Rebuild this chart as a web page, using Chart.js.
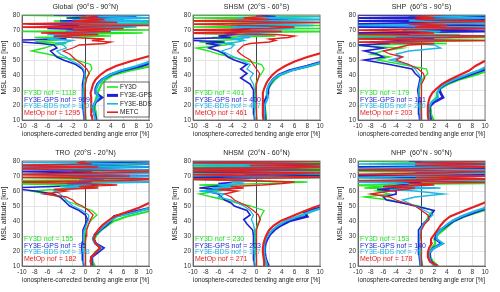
<!DOCTYPE html>
<html>
<head>
<meta charset="utf-8">
<script src="https://cdn.jsdelivr.net/npm/chart.js@4.4.1/dist/chart.umd.min.js"></script>
<style>
  body { margin: 0; background: #fff; }
  #wrap { position: relative; width: 500px; height: 292px; }
  canvas { position: absolute; }
</style>
</head>
<body>
<div id="wrap"></div>
<script>
const PANEL_TITLES = ['Global  (90°S - 90°N)', 'SHSM  (20°S - 60°S)', 'SHP  (60°S - 90°S)',
                      'TRO  (20°S - 20°N)', 'NHSM  (20°N - 60°N)', 'NHP  (60°N - 90°N)'];
const SERIES = ['FY3D', 'FY3E-GPS', 'FY3E-BDS', 'METC'];
const NOF_LABELS = ['FY3D', 'FY3E-GPS', 'FY3E-BDS', 'MetOp'];
const NOF = [
  [1118, 999, 1101, 1295],
  [401, 400, 487, 461],
  [179, 161, 200, 203],
  [155, 95, 198, 182],
  [230, 203, 137, 271],
  [153, 140, 79, 178]
];
const COLORS = ['#22e622', '#1f1fd6', '#1cb6e8', '#e61e1e'];

// altitudes [km] of the mean (bias) profiles and of the std profiles
const ALT_MEAN = [10, 14, 18, 22, 26, 30, 34, 38, 41, 44, 47, 50, 52, 54, 56, 58,
  60, 61, 62, 63, 64, 65, 66, 67, 68, 69, 70, 71, 72, 73, 74, 75, 76, 77, 78, 79, 80];
const ALT_STD = [10, 13, 16, 19, 22, 25, 28, 31, 34, 37, 40, 43, 46, 49, 52, 55];

// mean error [%]  (FY3D, FY3E-GPS, FY3E-BDS, METC)
const MEAN_GLOBAL = [
  [0.1,0,-0.1,-0.2,-0.2,-0.3,-0.2,0.2,0.5,1.0,0.8,-1.5,-4,-6,-8.5,-6.5, -5,-3,-8,-5,-3,-8,4,-4,9,-12,12,-3,2,-1,3,14,-5,4,-1,3,-13],
  [-0.2,-0.3,-0.4,-0.5,-0.5,-0.5,-0.4,-0.3,-0.2,-0.5,-1.5,-3.5,-4.5,-5,-5.5,-4.5, -5,-7,-10,-13,-3,-5,-2,-4,-1,-3,2,-6,5,-2,-9,3,-4,6,-3,8,-5],
  [-0.1,-0.2,-0.3,-0.4,-0.4,-0.4,-0.3,-0.2,-0.1,-0.3,-1,-2.5,-3,-4,-4.5,-3, -3.5,-4.5,-3,-2,-6,-4,-1,-6,2,-3,5,-2,8,-1,12,-4,13,-2,14,0,14],
  [0,0,0,-0.1,-0.1,-0.1,0,0.2,0.6,0.2,-0.5,-1.5,-2,-2.5,-3.5,-2, -1,3,4,1,3,-2,-5,2,-7,4,-2,6,-14,14,-14,5,-2,3,-1,2,0]
];
const MEAN_SHSM = [
  [0.1,0,-0.1,-0.1,-0.2,-0.2,-0.1,0.3,0.8,1.2,0.8,-2,-4,-6,-7.5,-9.5, -5,-4,-9,-6,-2,-7,3,-3,-12,14,-13,13,-12,12,-4,3,-13,13,-13,14,-14],
  [-0.3,-0.4,-0.5,-0.5,-0.4,-0.5,-1.0,-2.5,-1.5,-2.5,-1.5,-3.5,-4.5,-5,-6,-7.5, -6,-8,-5,-10,-12,-4,-6,-3,-5,-2,-4,0,-3,2,-1,4,-2,5,-1,3,0],
  [-0.2,-0.3,-0.3,-0.4,-0.3,-0.3,-0.5,-1.0,-0.5,-1.5,-1,-2.5,-3.5,-4.5,-5.5,-4, -3.5,-5,-3,-2,-4,-1,-3,2,-2,4,-1,6,-4,9,-3,12,-5,14,-3,12,14],
  [0,0,0,0,0,-0.1,0,0.3,0.5,0,-0.5,-1,-1.8,-2.5,-3,-2.5, -2,-1,2,3,2,5,6,3,-14,4,-13,2,6,-1,-14,14,-14,2,-2,1,0]
];
const MEAN_SHP = [
  [0,0,-0.2,-0.2,-0.3,-0.3,-0.2,0.3,1,0.8,-3,-7,-5,-8,-6,-3, -12,4,-8,13,-13,12,-14,6,-13,3,-2,2,-1,14,-3,2,-1,13,0,-2,14],
  [-0.3,-0.4,-0.4,-0.5,-0.5,-0.6,-0.4,-0.2,-1,-1.5,-5,-9,-6,-7,-9,-6, -10,-5,-8,-3,2,-4,1,-2,-12,14,-3,13,-14,14,-14,13,-13,14,-13,14,-14],
  [-0.1,-0.2,-0.3,-0.3,-0.4,-0.4,-0.3,0,-0.5,-1,-2,-5,-3,-4,-2,3, 2,-1,-7,4,-2,-13,13,-2,1,3,-3,-1,14,-13,2,13,-2,1,12,0,13],
  [0,0,0,-0.1,0,0,0,0.5,0.3,-0.5,-2,-4,-3,-5,-6,-4, -2,2,-13,13,-14,4,14,-14,2,-1,-13,14,-1,4,-2,2,14,-1,2,-1,3]
];
const MEAN_TRO = [
  [0,0,0,-0.1,-0.1,-0.2,0,0.5,1,1.8,1,-1,-2,-3.5,-4,-6, -8.5,-5,-3,2,-2,-14,6,-13,14,-14,14,-14,13,-2,14,-14,14,0,13,2,14],
  [-0.3,-0.4,-0.5,-0.6,-0.5,-0.4,-0.4,0,0.3,0,-1,-2.5,-3,-3.5,-4,-5, -8,-10,-13,-5,2,-3,1,-1,3,-2,14,-3,2,-13,14,-14,13,-14,14,-1,14],
  [-0.2,-0.3,-0.3,-0.4,-0.3,-0.3,-0.2,0.2,0.5,0.5,-0.5,-2,-2.5,-3,-3.5,-4, -5,-3,-1,-4,1,-2,13,-1,14,-2,14,-13,14,1,14,-13,14,-14,14,-14,14],
  [0,0,0,0,0,0.1,0.2,0.5,0.8,1.2,0.5,-0.5,-1.5,-2,-3,-6.5, -3,-5,2,-1,5,-1,-13,6,14,-12,7,-14,2,13,-1,-14,2,-14,1,-1,0]
];
const MEAN_NHSM = [
  [0,0,-0.1,-0.1,-0.2,-0.2,-0.1,0.2,0.5,0.8,1.2,-1,-3,-5,-7,-9, -6,-8,-5,-3,-9,2,8,-4,-14,13,-14,14,-12,13,-14,12,-13,14,-13,12,14],
  [-0.3,-0.4,-0.5,-0.5,-0.5,-0.4,-0.6,-1.5,-2,-1,-1.5,-3.5,-4,-5,-5.5,-6, -8,-5,-9,-7,-4,-6,-3,-1,-5,-13,14,-2,3,-14,14,-13,14,-2,13,-14,14],
  [-0.2,-0.3,-0.3,-0.4,-0.3,-0.3,-0.3,-0.5,-0.8,-0.5,-1,-2,-3,-4,-6,-5, -9,-4,-7,-3,-6,-2,-4,1,-13,14,-1,-14,13,-2,14,-13,14,-14,14,-13,14],
  [0,0,0,0,0,0,0,0.3,0.6,0.3,-0.5,-1.5,-2.5,-3.5,-4,-5, -3,-6,-2,-4,1,4,6,-2,-14,13,3,-13,14,-14,12,-14,13,-1,14,-14,12]
];
const MEAN_NHP = [
  [0.2,0,-0.2,-0.2,-0.3,-0.2,-0.1,0.3,0.8,1.2,1.8,-0.5,-3,-5,-9,-5, -7,-2,-9,-5,-14,14,-13,-3,2,-14,14,-2,13,-14,3,-13,-2,1,-1,2,-13],
  [-0.2,-0.3,-0.4,-0.5,-0.5,-0.5,-0.4,0.2,1,1.5,2,-1,-3,-5.5,-6,-4, -4,-7,-3,-6,-2,-4,0,-3,13,-1,-13,14,-1,14,-14,14,-13,14,-1,13,-2],
  [-0.1,-0.2,-0.3,-0.3,-0.3,-0.3,-0.2,0.3,1,1.8,0.5,-1,-2,-3,-1,3.5, -1,-5,3,-4,1,-2,-13,13,-1,-14,2,-3,14,-2,13,-14,1,14,-13,14,0],
  [0.1,0,0,0,0,-0.1,0,0.5,1.2,1,0,-1,-2.5,-4,-5,-8, -5,-3,-1,-6,2,-2,14,-14,13,-1,14,-14,2,13,-14,2,14,-1,14,-1,14]
];

// standard deviation [%]
const STD_GLOBAL = [
  [1.8,1.7,1.6,1.5,1.5,1.7,1.9,2.2,2.5,3.2,4.3,7.0,10.5,13,15,16],
  [1.7,1.5,1.3,1.2,1.6,2.6,1.6,1.6,1.9,2.6,3.8,5.8,8.8,11,13,15],
  [1.6,1.4,1.3,1.2,1.5,2.1,1.7,1.7,2.0,2.7,3.7,5.5,8.0,10.2,12,14],
  [1.1,1.0,0.9,0.9,0.9,0.9,0.8,1.0,1.2,1.6,2.3,3.3,4.8,7.0,9.5,12]
];
const STD_SHSM = [
  [1.6,1.5,1.4,1.3,1.3,1.5,1.7,1.9,2.3,2.9,3.8,5.5,8.5,11,13,15],
  [1.4,1.3,1.2,1.2,1.3,1.6,1.8,1.8,2.1,2.6,3.5,5.2,8.0,10.5,12.5,14],
  [1.3,1.2,1.2,1.3,1.5,1.8,1.6,1.7,2.0,2.6,3.6,5.5,8.3,10.8,12.5,14],
  [1.1,1.0,1.0,1.0,1.0,1.0,1.0,1.2,1.5,1.9,2.5,3.3,4.5,6.0,8.0,10.5]
];
const STD_SHP = [
  [1.9,1.6,1.5,1.4,1.6,2.3,2.4,3.0,4.2,6.0,8.5,10.5,12,14,15,16],
  [1.5,1.3,1.2,1.3,2.0,3.4,3.0,2.8,3.8,5.5,7.5,9.5,11.5,13,14,15],
  [1.3,1.2,1.1,1.2,1.6,2.6,2.5,2.8,3.7,5.2,7.0,9.0,10.5,12,14,15],
  [1.1,1.0,1.0,1.0,1.1,1.3,1.7,2.4,3.2,4.5,6.0,7.5,8.5,9.8,11,13]
];
const STD_TRO = [
  [1.5,1.1,1.0,1.5,2.3,1.6,1.4,1.8,2.5,3.5,4.5,6.5,9.5,11.5,13,15],
  [1.1,0.9,1.0,1.9,2.8,1.6,1.2,1.5,2.3,3.2,4.0,4.5,7.5,10.5,12.5,14],
  [1.0,0.9,0.9,1.6,2.5,1.5,1.2,1.4,2.2,3.0,3.8,5.0,8.0,10.5,12.5,14],
  [1.0,0.8,0.9,1.6,2.3,1.6,1.3,1.5,2.0,2.6,3.5,4.5,6.5,8.5,10,12]
];
const STD_NHSM = [
  [1.6,1.4,1.3,1.2,1.2,1.3,1.6,2.0,2.6,3.5,4.8,6.8,8.5,10.3,12,14],
  [1.9,1.6,1.4,1.3,1.3,1.4,1.7,2.1,2.8,3.8,5.2,8.0,7.5,10.2,12,14],
  [1.7,1.5,1.3,1.2,1.2,1.3,1.5,1.9,2.5,3.4,4.6,6.5,8.3,10.5,12,14],
  [1.3,1.2,1.1,1.0,1.0,1.1,1.3,1.6,2.0,2.7,3.8,5.5,7.2,9.0,11,13]
];
const STD_NHP = [
  [2.6,1.8,1.4,1.3,1.6,2.2,2.0,2.6,3.5,4.3,5.2,6.8,9.0,11.5,13,15],
  [2.2,1.5,1.2,1.3,1.9,3.2,2.2,2.3,3.0,4.0,5.0,6.5,8.5,10.5,12.5,14],
  [2.0,1.4,1.2,1.2,2.0,3.4,2.4,2.4,3.0,3.8,4.8,6.2,8.0,10.2,12,14],
  [2.6,1.3,1.0,1.0,1.2,1.6,1.5,2.0,2.5,3.0,3.6,4.5,6.2,8.0,9.8,11.5]
];

const MEANS = [MEAN_GLOBAL, MEAN_SHSM, MEAN_SHP, MEAN_TRO, MEAN_NHSM, MEAN_NHP];
const STDS = [STD_GLOBAL, STD_SHSM, STD_SHP, STD_TRO, STD_NHSM, STD_NHP];

const FONT = 'Arial, "Liberation Sans", Helvetica, sans-serif';
const LEFTS = [0, 171, 336];

function toPoints(xs, alts) {
  return xs.map((x, i) => ({ x: x, y: alts[i] }));
}

const panelDecor = {
  id: 'panelDecor',
  beforeDatasetsDraw(chart) {
    const { ctx, chartArea: a, scales: { x } } = chart;
    const x0 = x.getPixelForValue(0);
    ctx.save();
    ctx.strokeStyle = '#444';
    ctx.lineWidth = 1;
    ctx.beginPath();
    ctx.moveTo(x0, a.top);
    ctx.lineTo(x0, a.bottom);
    ctx.stroke();
    ctx.restore();
  },
  afterDatasetsDraw(chart, args, o) {
    const { ctx, chartArea: a } = chart;
    ctx.save();
    ctx.strokeStyle = '#666';
    ctx.lineWidth = 0.8;
    ctx.strokeRect(a.left, a.top, a.right - a.left, a.bottom - a.top);

    ctx.font = '7px ' + FONT;
    ctx.textAlign = 'left';
    ctx.textBaseline = 'middle';
    o.nof.forEach((n, s) => {
      ctx.fillStyle = COLORS[s];
      ctx.fillText(NOF_LABELS[s] + ' nof = ' + n, a.left + 2, a.bottom - 27 + s * 6.7);
    });

    if (o.legend) {
      const l = a.left + 82, r = a.right, t = a.top + 67, b = a.top + 102;
      ctx.fillStyle = '#fff';
      ctx.fillRect(l, t, r - l, b - t);
      ctx.strokeStyle = '#444';
      ctx.lineWidth = 0.8;
      ctx.strokeRect(l, t, r - l, b - t);
      ctx.font = '6.5px ' + FONT;
      SERIES.forEach((name, s) => {
        const y = t + 5 + s * 8.4;
        ctx.strokeStyle = COLORS[s];
        ctx.lineWidth = s === 1 ? 3 : 1.6;
        ctx.beginPath();
        ctx.moveTo(l + 3, y);
        ctx.lineTo(l + 14, y);
        ctx.stroke();
        ctx.fillStyle = '#222';
        ctx.fillText(name, l + 16, y);
      });
    }

    ctx.fillStyle = '#222';
    ctx.font = '7px ' + FONT;
    ctx.textAlign = 'center';
    ctx.fillText(o.title, (a.left + a.right) / 2, 7);
    ctx.restore();
  }
};

const wrap = document.getElementById('wrap');

PANEL_TITLES.forEach((title, p) => {
  const canvas = document.createElement('canvas');
  canvas.width = 155;
  canvas.height = 146;
  canvas.style.width = '155px';
  canvas.style.height = '146px';
  canvas.style.left = LEFTS[p % 3] + 'px';
  canvas.style.top = (Math.floor(p / 3) * 146) + 'px';
  wrap.appendChild(canvas);

  const datasets = [];
  SERIES.forEach((name, s) => {
    datasets.push({
      label: name + ' mean',
      data: toPoints(MEANS[p][s], ALT_MEAN),
      borderColor: COLORS[s],
      borderWidth: s === 1 ? 1.6 : 1.3,
      showLine: true,
      pointRadius: 0,
      clip: 0,
      order: 4 - s
    });
    datasets.push({
      label: name + ' std',
      data: toPoints(STDS[p][s], ALT_STD),
      borderColor: COLORS[s],
      borderWidth: s === 1 ? 2.6 : 2.1,
      showLine: true,
      pointRadius: 0,
      clip: 0,
      order: 4 - s
    });
  });

  new Chart(canvas, {
    type: 'scatter',
    data: { datasets },
    options: {
      responsive: false,
      animation: false,
      devicePixelRatio: 1,
      layout: { padding: { top: 15, right: 6, left: 0, bottom: 8 } },
      plugins: {
        legend: { display: false },
        tooltip: { enabled: false },
        panelDecor: { title: title, nof: NOF[p], legend: p === 0 }
      },
      scales: {
        x: {
          type: 'linear', min: -10, max: 10,
          ticks: { stepSize: 2, autoSkip: false, maxRotation: 0, padding: 2, color: '#333', font: { size: 6.5, family: FONT } },
          grid: { color: '#e4e4e4', drawTicks: false },
          border: { color: '#666' },
          title: { display: true, text: 'ionosphere-corrected bending angle error [%]', color: '#222', padding: 0, font: { size: 6.5, family: FONT } },
          afterFit: (scale) => { scale.height = 18; }
        },
        y: {
          type: 'linear', min: 10, max: 80,
          ticks: { stepSize: 10, padding: 2, color: '#333', font: { size: 6.5, family: FONT } },
          grid: { color: '#e4e4e4', drawTicks: false },
          border: { color: '#666' },
          title: { display: true, text: 'MSL altitude [km]', color: '#222', padding: 0, font: { size: 7, family: FONT } },
          afterFit: (scale) => { scale.width = 22; }
        }
      }
    },
    plugins: [panelDecor]
  });
});
</script>
</body>
</html>
